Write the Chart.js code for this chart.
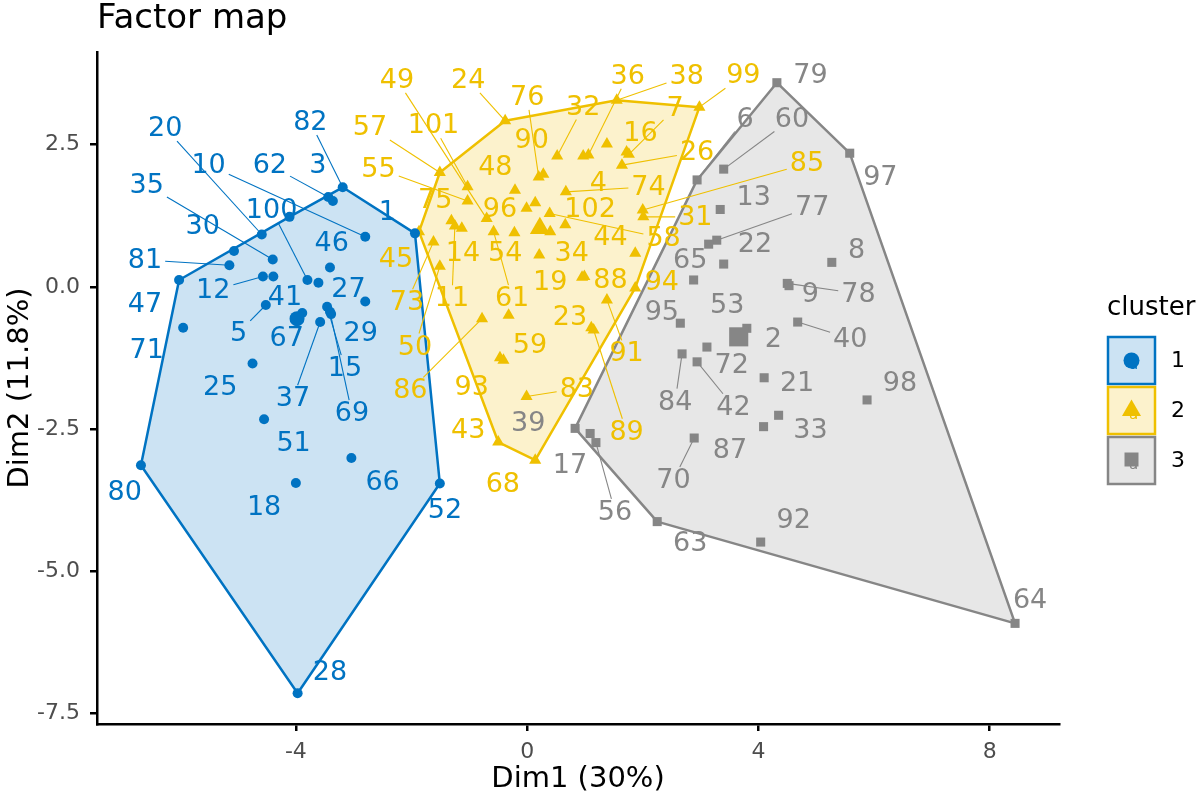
<!DOCTYPE html>
<html><head><meta charset="utf-8">
<script src="https://cdn.jsdelivr.net/npm/chart.js@4.4.1/dist/chart.umd.min.js"></script>
<style>html,body{margin:0;padding:0;background:#fff}</style>
</head><body>
<canvas id="c" width="1200" height="800"></canvas>
<script>
// ---------- data ----------
const clusterNames = ["1", "2", "3"];
const xTicks = [-4, 0, 4, 8];
const yTicks = [-7.5, -5, -2.5, 0, 2.5];
const yTickLabels = ["-7.5", "-5.0", "-2.5", "0.0", "2.5"];
const xRange = [-7.44, 9.2];
const yRange = [-7.69, 4.13];

// cluster 1
const c1Ids = ["82","3","62","20","10","35","100","30","1","46","81","12","41","27","47","5","67","29","71","15","25","37","69","51","80","18","66","52","28","",""];
const c1X = [-3.19,-3.36,-3.44,-4.59,-2.80,-4.40,-3.80,-5.07,-1.94,-3.41,-5.15,-4.57,-4.39,-2.80,-6.02,-4.52,-3.89,-3.39,-5.95,-3.46,-4.75,-3.58,-3.41,-4.55,-6.68,-4.00,-3.04,-1.51,-3.97,-4.11,-3.61];
const c1Y = [1.75,1.51,1.58,0.92,0.88,0.48,0.12,0.63,0.94,0.34,0.38,0.18,0.18,-0.26,0.12,-0.32,-0.46,-0.48,-0.72,-0.35,-1.35,-0.62,-0.44,-2.33,-3.14,-3.45,-3.01,-3.46,-7.15,1.23,0.07];
const c1LabelX = [-3.75,-3.62,-4.45,-6.26,-5.51,-6.58,-4.42,-5.61,-2.42,-3.38,-6.61,-5.43,-4.19,-3.09,-6.61,-4.99,-4.16,-2.88,-6.58,-3.15,-5.31,-4.05,-3.03,-4.04,-6.96,-4.55,-2.50,-1.42,-3.41,null,null];
const c1LabelY = [2.90,2.14,2.14,2.79,2.14,1.79,1.35,1.07,1.31,0.77,0.47,-0.06,-0.18,-0.03,-0.30,-0.81,-0.90,-0.81,-1.11,-1.43,-1.76,-1.96,-2.22,-2.75,-3.61,-3.87,-3.43,-3.93,-6.77,null,null];
const c1Segment = [1,0,1,1,1,1,1,0,0,0,1,1,0,0,0,1,0,0,0,1,0,1,1,0,0,0,0,0,0,0,0];

// cluster 2
const c2Ids = ["24","38","99","57","101","55","49","48","76","90","32","","36","4","16","7","26","74","96","","58","","102","75","11","14","61","54","45","73","50","34","44","85","31","19","88","94","91","89","23","86","","59","93","83","43","68"];
const c2X = [-0.38,1.55,2.98,-1.51,-1.03,-1.03,-0.70,-0.21,0.20,0.28,0.52,0.97,1.06,1.38,1.72,1.76,1.64,0.67,-0.01,0.14,0.39,0.40,0.66,-1.31,-1.25,-1.13,-0.58,-0.22,-1.87,-1.62,-1.51,0.21,1.87,2.00,2.01,0.95,0.99,1.87,1.38,1.15,1.11,-0.78,-0.32,-0.41,-0.47,-0.01,-0.50,0.14];
const c2Y = [2.92,3.28,3.16,2.01,1.76,1.51,1.20,1.70,1.93,1.98,2.30,2.30,2.32,2.51,2.37,2.33,2.14,1.67,1.38,1.48,1.29,0.97,1.09,1.16,1.07,1.03,0.97,0.95,0.97,0.79,0.36,0.56,0.59,1.35,1.23,0.17,0.18,-0.02,-0.23,-0.76,-0.72,-0.56,-0.50,-1.29,-1.25,-1.93,-2.73,-3.05];
const c2LabelX = [-1.02,2.76,3.74,-2.72,-1.62,-2.57,-2.25,-0.55,0.00,0.08,0.97,null,1.74,1.23,1.96,2.56,2.94,2.10,-0.47,null,2.36,null,1.09,-1.59,-1.30,-1.11,-0.26,-0.38,-2.27,-2.08,-1.94,0.77,1.44,4.84,2.91,0.40,1.44,2.33,1.72,1.72,0.74,-2.02,null,0.05,-0.96,0.86,-1.02,-0.42];
const c2LabelY = [3.64,3.71,3.72,2.81,2.84,2.08,3.64,2.11,3.34,2.58,3.17,null,3.71,1.82,2.70,3.14,2.37,1.76,1.37,null,0.85,null,1.36,1.53,-0.20,0.59,-0.20,0.59,0.49,-0.27,-1.05,0.59,0.88,2.17,1.23,0.09,0.12,0.09,-1.17,-2.55,-0.53,-1.82,null,-1.02,-1.76,-1.79,-2.52,-3.46];
const c2Segment = [1,1,1,1,1,1,1,0,1,0,1,0,1,0,0,1,1,1,0,0,1,0,0,0,1,0,1,0,0,1,1,0,0,1,1,0,0,0,1,1,0,1,0,0,0,1,0,0];

// cluster 3
const c3Ids = ["79","97","6","60","13","77","","22","65","8","78","9","40","95","53","2","72","84","42","21","33","87","98","70","63","92","64","39","17","56"];
const c3X = [4.32,5.58,2.94,3.40,3.34,3.28,3.14,3.40,2.88,5.27,4.50,4.53,4.68,2.65,3.80,3.72,3.11,2.68,2.94,4.10,4.35,4.09,5.88,2.89,2.25,4.04,8.44,0.83,1.09,1.19];
const c3Y = [3.59,2.35,1.88,2.07,1.36,0.82,0.75,0.40,0.12,0.43,0.06,0.02,-0.62,-0.64,-0.73,-0.81,-1.06,-1.18,-1.32,-1.60,-2.26,-2.46,-1.99,-2.66,-4.13,-4.49,-5.92,-2.49,-2.58,-2.74];
const c3LabelX = [4.90,6.11,3.77,4.58,3.92,4.93,null,3.94,2.82,5.70,5.73,4.90,5.59,2.33,3.46,4.26,3.54,2.56,3.57,4.67,4.90,3.51,6.45,2.53,2.82,4.61,8.70,0.02,0.74,1.52];
const c3LabelY = [3.72,1.93,2.96,2.96,1.58,1.41,null,0.76,0.47,0.65,-0.12,-0.12,-0.91,-0.44,-0.32,-0.91,-1.38,-2.02,-2.11,-1.70,-2.52,-2.87,-1.70,-3.40,-4.51,-4.10,-5.51,-2.40,-3.13,-3.96];
const c3Segment = [0,0,1,1,0,1,0,0,0,0,1,0,1,0,0,0,0,1,1,0,0,0,0,1,0,0,0,0,0,1];

// cluster centres
const centerX = [-3.98, 0.22, 3.66];
const centerY = [-0.56, 1.03, -0.88];

// ---------- styles ----------
const FONT = "'DejaVu Sans', sans-serif";
const colors = ["#0073C2", "#EFC000", "#868686"];
const fills = ["rgba(0,115,194,0.2)", "rgba(239,192,0,0.2)", "rgba(134,134,134,0.2)"];
const shapes = ["circle", "triangle", "rect"];
const ptRadius = [5, 7, 6.4];
const centerRadius = [7.5, 11.5, 13.5];

const clusters = [
  {ids: c1Ids, x: c1X, y: c1Y, lx: c1LabelX, ly: c1LabelY, seg: c1Segment},
  {ids: c2Ids, x: c2X, y: c2Y, lx: c2LabelX, ly: c2LabelY, seg: c2Segment},
  {ids: c3Ids, x: c3X, y: c3Y, lx: c3LabelX, ly: c3LabelY, seg: c3Segment}
];

function convexHull(xs, ys) {
  const p = xs.map((x, i) => ({x: x, y: ys[i]})).sort((a, b) => a.x - b.x || a.y - b.y);
  const cross = (o, a, b) => (a.x - o.x) * (b.y - o.y) - (a.y - o.y) * (b.x - o.x);
  const lower = [];
  for (const q of p) { while (lower.length >= 2 && cross(lower[lower.length - 2], lower[lower.length - 1], q) <= 0) lower.pop(); lower.push(q); }
  const upper = [];
  for (let i = p.length - 1; i >= 0; i--) { const q = p[i]; while (upper.length >= 2 && cross(upper[upper.length - 2], upper[upper.length - 1], q) <= 0) upper.pop(); upper.push(q); }
  upper.pop(); lower.pop();
  const h = lower.concat(upper);
  h.push(h[0]);
  return h;
}

const datasets = [];
clusters.forEach((c, k) => {
  datasets.push({
    label: "pts" + k, data: c.x.map((v, i) => ({x: v, y: c.y[i]})),
    pointStyle: shapes[k], pointRadius: ptRadius[k], backgroundColor: colors[k],
    borderWidth: 0, showLine: false, order: 1
  });
  datasets.push({
    label: "centre" + k, data: [{x: centerX[k], y: centerY[k]}],
    pointStyle: shapes[k], pointRadius: centerRadius[k], backgroundColor: colors[k],
    borderWidth: 0, showLine: false, order: 0
  });
  datasets.push({
    label: "hull" + k, data: convexHull(c.x, c.y),
    showLine: true, fill: 'shape', backgroundColor: fills[k], borderColor: colors[k],
    borderWidth: 2.5, borderJoinStyle: 'round', pointRadius: 0, tension: 0, order: 10 - k
  });
});

const decor = {
  id: 'decor',
  afterDatasetsDraw(chart) {
    const ctx = chart.ctx, xs = chart.scales.x, ys = chart.scales.y;
    const fs = 27;
    ctx.save();
    ctx.font = fs + "px " + FONT;
    ctx.textAlign = 'center';
    ctx.textBaseline = 'middle';
    clusters.forEach((c, k) => {
      c.ids.forEach((id, i) => {
        if (!id || c.lx[i] === null) return;
        const lx = xs.getPixelForValue(c.lx[i]), ly = ys.getPixelForValue(c.ly[i]);
        const px = xs.getPixelForValue(c.x[i]), py = ys.getPixelForValue(c.y[i]);
        if (c.seg[i]) {
          const hw = ctx.measureText(id).width / 2 + 3, hh = fs * 0.37 + 3;
          const dx = px - lx, dy = py - ly;
          const t = Math.min(dx !== 0 ? hw / Math.abs(dx) : Infinity, dy !== 0 ? hh / Math.abs(dy) : Infinity);
          if (t < 1) {
            ctx.beginPath();
            ctx.strokeStyle = colors[k];
            ctx.lineWidth = 1.1;
            ctx.moveTo(lx + dx * t, ly + dy * t);
            ctx.lineTo(px, py);
            ctx.stroke();
          }
        }
      });
    });
    clusters.forEach((c, k) => {
      ctx.fillStyle = colors[k];
      c.ids.forEach((id, i) => {
        if (!id || c.lx[i] === null) return;
        ctx.fillText(id, xs.getPixelForValue(c.lx[i]), ys.getPixelForValue(c.ly[i]) + 1);
      });
    });
    ctx.restore();
  },
  afterDraw(chart) {
    const ctx = chart.ctx, area = chart.chartArea;
    ctx.save();
    // title
    ctx.fillStyle = '#000';
    ctx.font = "34px " + FONT;
    ctx.textAlign = 'left';
    ctx.textBaseline = 'alphabetic';
    ctx.fillText("Factor map", area.left, 28);
    // legend
    const lx = area.right + 49;
    ctx.font = "26px " + FONT;
    ctx.textBaseline = 'middle';
    ctx.fillText("cluster", lx - 1, 308);
    for (let k = 0; k < 3; k++) {
      const top = 337 + 50 * k, size = 47, cx = lx + size / 2, cy = top + size / 2;
      ctx.fillStyle = '#fff';
      ctx.fillRect(lx, top, size, size);
      ctx.fillStyle = fills[k];
      ctx.fillRect(lx, top, size, size);
      ctx.strokeStyle = colors[k];
      ctx.lineWidth = 2.5;
      ctx.strokeRect(lx, top, size, size);
      ctx.fillStyle = colors[k];
      ctx.font = "15px " + FONT;
      ctx.textAlign = 'center';
      ctx.fillText("a", cx + 2, cy + 5);
      ctx.beginPath();
      if (k === 0) { ctx.arc(cx, cy, 8, 0, Math.PI * 2); }
      else if (k === 1) { const r = 11; ctx.moveTo(cx, cy - r); ctx.lineTo(cx + r * 0.866, cy + r * 0.5); ctx.lineTo(cx - r * 0.866, cy + r * 0.5); ctx.closePath(); }
      else { ctx.rect(cx - 7, cy - 8, 14, 14); }
      ctx.fill();
      ctx.fillStyle = '#000';
      ctx.font = "22px " + FONT;
      ctx.textAlign = 'center';
      ctx.fillText(clusterNames[k], lx + 70, cy + 1);
      ctx.textAlign = 'left';
    }
    ctx.restore();
  }
};

new Chart(document.getElementById('c'), {
  type: 'scatter',
  data: {datasets: datasets},
  plugins: [decor],
  options: {
    responsive: false, animation: false, devicePixelRatio: 1, events: [],
    layout: {padding: {top: 52, right: 141, left: 0, bottom: 0}},
    plugins: {legend: {display: false}, tooltip: {enabled: false}, title: {display: false}},
    scales: {
      x: {
        type: 'linear', min: xRange[0], max: xRange[1],
        afterBuildTicks: s => { s.ticks = xTicks.map(v => ({value: v})); },
        afterFit: s => { s.height = 76; },
        ticks: {font: {family: FONT, size: 22}, color: '#4D4D4D', padding: 8, callback: v => String(v)},
        grid: {display: true, drawOnChartArea: false, drawTicks: true, tickLength: 7, color: '#000', lineWidth: 2.5},
        border: {display: true, color: '#000', width: 2.5},
        title: {display: true, text: 'Dim1 (30%)', font: {family: FONT, size: 29}, color: '#000', padding: {top: 0, bottom: 3}}
      },
      y: {
        type: 'linear', min: yRange[0], max: yRange[1],
        afterBuildTicks: s => { s.ticks = yTicks.map(v => ({value: v})); },
        afterFit: s => { s.width = 97; },
        ticks: {font: {family: FONT, size: 22}, color: '#4D4D4D', padding: 10, callback: v => yTickLabels[yTicks.indexOf(v)]},
        grid: {display: true, drawOnChartArea: false, drawTicks: true, tickLength: 7, color: '#000', lineWidth: 2.5},
        border: {display: true, color: '#000', width: 2.5},
        title: {display: true, text: 'Dim2 (11.8%)', font: {family: FONT, size: 29}, color: '#000', padding: {top: 3, bottom: 0}}
      }
    }
  }
});
</script>
</body></html>
